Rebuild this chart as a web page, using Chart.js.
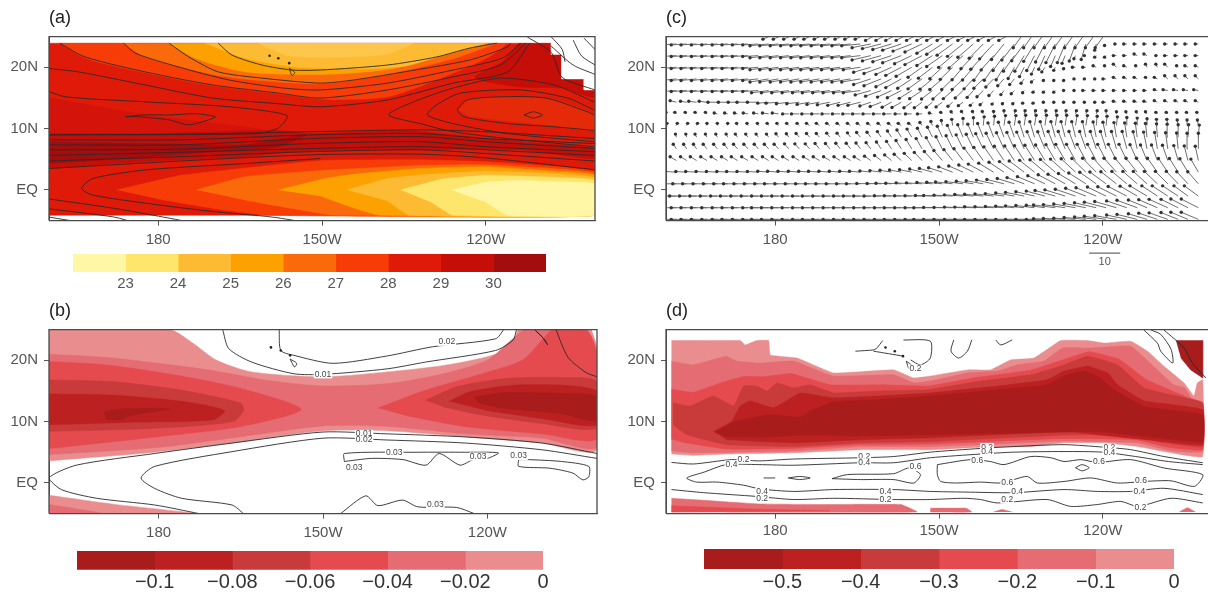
<!DOCTYPE html>
<html><head><meta charset="utf-8">
<script src="https://cdn.jsdelivr.net/npm/chart.js@4"></script>
<style>
html,body{margin:0;padding:0;background:#fff;width:1208px;height:594px;overflow:hidden}
canvas{position:absolute;filter:blur(0.6px)}
</style></head><body>
<canvas id="pa" width="604" height="250" style="left:0;top:0"></canvas>
<canvas id="pc" width="604" height="272" style="left:617px;top:0"></canvas>
<canvas id="pb" width="604" height="250" style="left:0;top:293px"></canvas>
<canvas id="pd" width="604" height="250" style="left:617px;top:293px"></canvas>
<canvas id="ba" width="540" height="50" style="left:40px;top:254px"></canvas>
<canvas id="bb" width="540" height="43" style="left:40px;top:551px"></canvas>
<canvas id="bd" width="540" height="45" style="left:667px;top:549px"></canvas>
<script>
/* ---------- axes ---------- */
const lonTicks=[180,210,240], lonLabels=['180','150W','120W'];
const latTicks=[20,10,0], latLabels=['20N','10N','EQ'];
/* ---------- colour bars ---------- */
const edgesA=[22,23,24,25,26,27,28,29,30,31];
const colorsA=['#FFF6A6','#FEE56B','#FDBB33','#FDA100','#FB6A0A','#F73C08','#DF1A08','#C50E08','#A30D0D'];
const ticksA=[23,24,25,26,27,28,29,30], labelsA=['23','24','25','26','27','28','29','30'];
const edgesB=[-0.12,-0.1,-0.08,-0.06,-0.04,-0.02,0];
const redsB=['#A81C1C','#BC2020','#C93A3A','#E54B4E','#E56C72','#E98D8F'];
const ticksB=[-0.1,-0.08,-0.06,-0.04,-0.02,0], labelsB=['\u22120.1','\u22120.08','\u22120.06','\u22120.04','\u22120.02','0'];
const edgesD=[-0.6,-0.5,-0.4,-0.3,-0.2,-0.1,0];
const ticksD=[-0.5,-0.4,-0.3,-0.2,-0.1,0], labelsD=['\u22120.5','\u22120.4','\u22120.3','\u22120.2','\u22120.1','0'];
const [r5,r4,r3,r2,r1,r0]=redsB;

/* ---------- panel (a) SST shading, [lon,lat] outlines ---------- */
const aBase=[[160,-3.6],[260,-3.6],[260,24],[160,24]];
const aWedge=[[160,15.2],[178,12.5],[198,10.3],[200,9.6],[160,9.6]];
const aItcz=[[160,9.5],[178,9.5],[190,9.8],[202,10],[208,9.5],[225,10],[234,9.3],[246,8.2],[260,7.1],[260,5.5],[246,6.9],[222,6.9],[205,6.6],[196,5.8],[184,5.3],[172,4.7],[160,3.9]];
const aCore=[[160,8.2],[178,7.9],[196,7.7],[207,9.3],[202,7.4],[190,6.6],[178,5.8],[160,4.7]];
const aN27=[[162,24],[167,21.5],[178,19.2],[190,17.2],[202,15.9],[210.6,15],[222,15.4],[234,19.2],[241,22],[244,24]];
const aN26=[[173.7,24],[177.6,21.8],[190,19],[199,18],[210,17.5],[222,19],[234,21.5],[242,24]];
const aN25=[[182,24],[187,21.5],[196,19.4],[210,19],[222,19.8],[232,22],[240.5,24]];
const aN24=[[188.6,24],[196,21.6],[205,20.2],[215,19.9],[225,20.3],[234,22.6],[240,24]];
const aN23=[[198.4,24],[204,22],[215,21.8],[222,22.3],[226.8,24]];
const aNE=[[246,24],[243,21],[238,18.5],[246,17],[254,16.8],[260,15.5],[260,24]];
const aInner=[[235,13.3],[237,15],[243,15.4],[252,15],[260,12.5],[260,10],[252,10.8],[243,11.6],[237,12.2]];
const aT27=[[172.4,0.45],[184,2.8],[196,4],[210,5.2],[228,5.3],[240,5],[252,4.3],[260,3.4],[260,-3.6],[200,-3.6],[190,-2.5],[180,-1]];
const aT26=[[187,0.45],[196,2.6],[210,3.6],[228,4.4],[240,4.5],[252,3.9],[260,3.1],[260,-3.6],[212,-3.6],[205,-2.6],[196,-1.2]];
const aT25=[[202,0.45],[210.6,2.3],[216,3],[228,3.9],[240,4.2],[252,3.5],[260,2.8],[260,-3.6],[220.5,-3.6],[215,-2.2],[210,-0.6]];
const aT24=[[214.6,0.45],[222,2.3],[230,3],[240,3.5],[252,3.1],[260,2.4],[260,-3.6],[226,-3.6],[222,-1.3]];
const aT23=[[224.4,0.45],[232,2.2],[240,2.8],[252,2.5],[260,2],[260,-3.6],[234,-3.6],[230,-1.5]];
const aT22=[[233.6,0.45],[240,1.7],[246,2],[252,1.8],[260,1.4],[260,-3.6],[244,-3.6],[240,-1.5]];
const aLand=[[252,25],[252,22.1],[253.9,22.1],[253.9,18.1],[258,18.1],[258,16.3],[260,16.3],[260,25]];
/* panel (a) contours */
const aLines=[
[[191,24],[193.5,22.1],[199,20.5],[204.5,19.7],[209.7,19.7],[222,20.5],[231,21.8],[237,23.2],[242,24]],
[[182,24],[185.6,21.8],[191,19.4],[199,18.4],[209.7,17.6],[215.8,18.1],[225,19.4],[237,21.3],[244,23.4],[244.5,24]],
[[173.7,24],[175.8,22.4],[183.7,20.2],[193,18.1],[203,16.8],[209.7,16.5],[222,17.6],[234,19.7],[243,21.6],[246.4,24]],
[[162,24],[166.6,21.8],[177.6,19.4],[190,17.3],[202,16],[209.7,15.2],[222,16.5],[234,18.6],[242.7,20.5],[247.3,24]],
[[159.3,20],[165.4,19.4],[177.6,17.3],[190,15.2],[202,14.3],[209.7,13.8],[222,14.9],[234,17.6],[244,19.4],[248,24]],
[[159.3,16.5],[163,15.4],[177.6,14.6],[193,13.8],[203.6,12.4],[202,10.4],[198,9.5],[160,9.3]],
[[174,12.2],[176.4,12.2],[182,11.7],[185.6,10.9],[189.2,11.7],[190.5,12.2],[186.8,12.7],[182.5,12.5],[177.6,12.5],[174,12.2]],
[[259.8,14.6],[252.5,17.3],[242.7,18.4],[234,16.8],[226.8,14.6],[222.2,12.5],[228,11.1],[234,9.8],[244,8.7],[259.8,7.4]],
[[259.8,13.3],[255,15.2],[246.4,16.5],[235.4,16],[231,14.1],[229.3,12.5],[234,11.1],[244,9.5],[259.8,8.2]],
[[259.8,12.5],[258.6,13],[251,15.2],[242.7,15.4],[236.6,14.9],[234.8,13.3],[236,12.2],[244,11.1],[252.5,10.6],[259.8,10]],
[[247,12.5],[248.7,13],[250.4,12.5],[248.7,12],[247,12.5]],
[[209.7,5.5],[196,4.7],[178,3.7],[168,2.3],[166,0.7],[168,-0.35],[178,-1.7],[190,-3],[201,-3.9],[208,-4.9]],
[[159.3,-0.9],[172,-2.5],[181,-3.9],[187,-4.9]],
[[159.3,-2.5],[172,-3.9],[176,-4.9]],
[[160,-3.9],[167,-4.9]],
[[247.6,25],[252,22.5],[254,18.5],[260,16.5]],
[[252,25],[254,23],[254.5,21]],
[[256,24.5],[257.5,22],[260,20.5]],
[[258,24.8],[260,23]],
[[252,23.5],[256,20.5],[260,19]]
];
const aItczLons=[160,184,208,228,240,260];
const aItczLats=[
[9.3,9.4,9.8,10.1,9.8,8.7],[8.5,8.5,9.3,9.5,8.7,7.9],[7.7,7.7,8.7,9,8.2,7.1],[6.9,7,7.9,8.2,7.4,6.6],
[6,6.5,7.1,7.4,6.9,6],[5.1,5.8,6.6,6.9,6.3,5.1],[3.9,5.1,6.1,6.2,5.6,3.7]];
const aIslands=[[200.4,22],[202,21.6],[204,20.8]];
const aBig=[[204,20],[205,19.3],[204.5,18.8],[204,20]];

/* ---------- panel (b) ---------- */
const bR0=[[160,25],[182,25],[186.4,22.7],[190.6,20],[197,18.1],[210,17.3],[221.7,18.1],[232.3,19.2],[241.5,21],[245,23.3],[245.7,25],[259,25],[260,22],[260,5.4],[250,6.5],[236,7.5],[221.7,8.5],[210,8.5],[193.4,6.5],[179.3,5],[160,3.6]];
const bR1=[[160,21],[170,20.5],[180,19.5],[190,18.3],[200,16.7],[210,15.8],[222,16.2],[232,17.8],[240,20],[244,23],[247,25],[256,25],[258,20],[260,16],[260,5.8],[250,7.3],[236,8],[222,9.2],[210,9.3],[193,7.3],[180,5.8],[160,4.6]];
const bR2w=[[160,19.8],[170.8,19.2],[183,17.6],[195,15.4],[206,12],[195,9.2],[179.5,7.5],[160,5.6]];
const bR2e=[[220,12.2],[228.7,15.1],[239.4,17.9],[246.4,20],[250,23.3],[252,25],[258,25],[260,21],[260,7.3],[250,8],[235.8,9.2],[225,11]];
const bR3w=[[160,16.8],[172,16.5],[185,15],[195,13],[195.5,11.8],[193.5,10],[179.3,8.9],[160,8.4]];
const bR3e=[[228.7,13.5],[234.5,15.7],[243,17],[253.5,17.2],[260,16.5],[260,9],[250,9.7],[239.4,11],[232,12.4]];
const bR4w=[[160,14.5],[172,14.3],[185,13.2],[192,11.8],[190,10.3],[175,9.9],[160,9.5]];
const bR4e=[[233,13.3],[237,14.9],[246.4,16],[260,15],[260,9.5],[250,10.5],[239.4,11.9]];
const bR5w=[[170,11.6],[173,12.1],[182,12.1],[175,11],[173,10.3],[170.5,10.3]];
const bR5e=[[237.6,14],[243,14.7],[253.5,14.6],[260,14],[260,10.2],[253.5,11.3],[243,12.2],[238.5,13]];
const bS0=[[160,-2],[172,-3.5],[187,-5],[160,-5]];
const bS1=[[160,-3.5],[170,-5],[160,-5]];
const bLines=[
[[191.7,25],[192.8,21.9],[197,19.7],[204.7,17.8],[210,17.7],[221.7,18.6],[228.7,19.7],[241.5,21.6],[244.7,23.3],[245.3,25]],
[[202,25],[202.3,21.6],[204.7,20.8],[211.8,19.5],[221.7,20.7],[230,22.2],[241.5,23.5],[243,25]],
[[260,4.8],[250,6.5],[236,7.5],[221.7,8],[210,8.3],[193.4,6.5],[179.3,4.8],[165,2.9],[160,0.8],[162.3,-1.1],[168.7,-2.5],[179.3,-3.6],[187.4,-5]],
[[260,4],[250,5.4],[236,6.5],[221.7,7],[210,7.3],[193.4,5.1],[179.3,2.7],[176.8,0.8],[179.3,-0.9],[184.2,-2.5],[193.4,-3.6],[195.5,-5]],
[[213.9,3.5],[213.9,4.8],[227.3,5],[236,5],[242,4.9],[240,4],[237.4,3.8],[235,2.9],[231.2,4.8],[228.8,2.9],[224.6,3.8],[218.9,4],[213.9,3.5]],
[[245.7,3.8],[245.7,2.7],[251.4,2.4],[255.6,1.6],[257.4,0.5],[258.5,1],[258.5,2.7],[253.5,3.5],[247.5,3.8],[245.7,3.8]],
[[213.2,-5],[217.8,-2.1],[220,-3.7],[224.5,-2.8],[227.3,-3.9],[234.4,-4],[237.6,-5]],
[[248.6,25],[250.5,23.3],[251,22.5],[249.8,24],[248.6,25]],
[[252.5,25],[254.7,20.5],[258,18],[260,17.3]],
[[204,20.2],[205.2,19.5],[204.8,18.9],[204,20.2]]
];
const bSpots=[[259,25],[260,25],[260,22.5]];
const bIslands=[[200.5,22.1],[202.3,21.6],[204,20.8]];
const bLabels=[[210,17.7,'0.01'],[232.6,23,'0.02'],[217.5,8,'0.01'],[217.5,7,'0.02'],[223,5,'0.03'],[215.7,2.5,'0.03'],[238.3,4.3,'0.03'],[245.7,4.4,'0.03'],[230.5,-3.6,'0.03']];

/* ---------- panel (d) ---------- */
const dR0=[[161,23.3],[173.6,23.3],[174.5,22.6],[176.6,23.3],[178.8,23.3],[179.1,21],[184,20.5],[190.7,18.1],[201.7,18.6],[205.4,17.3],[208.4,17.6],[215.2,18.6],[219.4,18.6],[223.1,20.2],[227.4,20.5],[232.3,23.3],[237.2,23.3],[240.2,22.9],[245.1,23.2],[248.2,21.6],[251.2,19.2],[254.9,16.5],[256.7,14.4],[257.3,16.5],[258.3,17],[258.3,4.7],[252.5,5.3],[246.4,6.3],[240.2,6.9],[232.9,6.9],[226.8,6.3],[217.6,6.2],[208.4,5.8],[195.6,5.8],[183.4,5.3],[171.1,5.1],[165,4.9],[161,5.1]];
const dR1=[[161,20],[165,19.4],[171,20.8],[173,20],[177.2,19.7],[183.4,20],[190.7,17.6],[201.7,17.8],[205.4,16.5],[208.4,16.8],[215.2,18.1],[220.7,18.4],[224.3,19.4],[229.2,20],[232.6,22.1],[237.8,22.1],[245.1,22.4],[250,18.6],[253,16.2],[255,15.7],[256.2,14.1],[258.3,13.3],[258.3,5.5],[252.5,5.6],[246.4,6.9],[232.9,7.2],[220.7,6.7],[208.4,6.3],[195.6,6.3],[183.4,5.6],[165,5.3],[161,5.6]];
const dR2=[[161,15.5],[165,15],[170,16.5],[174,17.5],[178,17.5],[183,18],[190,16.2],[200,16.2],[208,16],[217,17.4],[227,18.6],[233,20.3],[237.5,21.5],[243,20.3],[248,17],[252,15.5],[256,14],[258.3,13.3],[258.3,5.8],[252,6.2],[246,7.4],[233,7.6],[208,6.7],[195,6.6],[183,6],[171,5.9],[163,7],[161,7.5]];
const dR3=[[161.3,13.3],[164.4,12.8],[168.7,14.4],[172.4,12.8],[174.2,16],[176.6,16],[178.5,15.2],[180.3,16.5],[183.4,15.7],[186.4,16.2],[190.7,14.9],[198.7,15.2],[207.8,15.4],[217.6,16.8],[226.8,17.8],[232.9,19.4],[237.2,20.8],[242.7,19.4],[247.6,15.7],[252.5,14.6],[258.3,13.3],[258.3,6.3],[251.2,6.9],[245.1,8],[234.1,8.2],[208.4,7.1],[195.6,6.9],[183.4,6.3],[171.1,6.6],[163.8,8.2],[161.3,9.8]];
const dR4=[[168.7,8.7],[172,10.3],[173.6,12.8],[175.4,13.6],[179.7,12.5],[184.6,14.9],[190.7,14.1],[198.7,14.4],[208.4,14.9],[220.7,16],[229.8,17],[232.9,18.4],[237.2,19.2],[240.9,18.1],[242.7,16.2],[247.6,13.6],[258.3,12.2],[258.3,6.6],[251.2,7.1],[239,8.2],[234,8.7],[208.4,7.7],[195.6,7.4],[183.4,6.9],[171.1,7.4]];
const dR5=[[169,8.6],[173,10.4],[179,11.4],[184.6,11],[186.4,12],[190.7,13.5],[198.7,13.8],[208.4,14.4],[220.7,15.4],[229.8,16.2],[232.9,17.6],[236.6,18.4],[239.6,17.3],[242,15.4],[247.6,12.7],[258.3,11.4],[258.3,7.1],[248,7.9],[239,8.7],[208.4,8.2],[195.6,8],[185,8.2],[178,7.8],[171,7.9]];
const dCorner=[[253.4,23.3],[258.3,23.3],[258.3,17.3],[256.1,18.6],[254.3,20.5]];
const dS0=[[161,-2],[170,-2.5],[177,-2.9],[190,-3],[203,-3],[206,-4.2],[161,-4.2]];
const dS1=[[161,-3.2],[175,-3.7],[190,-4],[161,-4.2]];
const dS2=[[208.4,-3.6],[215,-3.6],[216,-4.2],[208.4,-4.2]];
const dS3=[[220,-4.2],[221.5,-3.8],[223.4,-4.2]];
const dS4=[[254,-4.2],[255.5,-3.5],[257,-4.2]];
const dLines=[
[[161,3.75],[165,3.5],[172,4.2],[177,4],[183.4,4.3],[195.6,4.5],[201.7,4.7],[208.4,5.4],[217.6,6],[223.7,6.3],[232.9,6.6],[240.2,6.2],[245.1,5.8],[251.2,4.7],[258.3,3.7]],
[[258.3,3.4],[252,3.9],[246,4.7],[240,5.4],[232.9,5.5],[223.7,5.4],[217.6,5.1],[208.4,4.5],[201.7,3.7],[195.6,3.7],[183.4,3.3],[177,3.4],[171,3.4],[167,2.2],[163.8,1.26],[165.6,0.6],[169.3,0.6],[174.2,0.1],[177.2,-0.5],[183.4,-0.9],[190.7,-0.6],[201.7,-0.6],[208.4,-0.9],[214.6,-1],[223.7,-1.1],[232.9,-0.6],[239,-0.9],[245.1,-0.9],[251.2,-0.4],[258.3,-1.4]],
[[161,-0.6],[166.9,-1.1],[176.6,-1.7],[183.4,-2.2],[190.7,-2],[201.7,-2.2],[208.4,-2.2],[214.6,-2],[217.6,-2.2],[220.7,-2.75],[229.8,-2.2],[234.1,-3.3],[239,-3],[243.3,-2.5],[246.4,-3.3],[252.5,-2],[258.3,-2.75]],
[[177.9,1.26],[180,1.26]],
[[182.4,1.26],[184.5,1.5],[186.4,1.26],[184.5,1],[182.4,1.26]],
[[190.4,1.15],[193.2,1.8],[201.7,1.95],[204.5,2.86],[206.6,1.8],[205.4,0.45],[201.7,1],[195.6,1],[190.4,1.15]],
[[209.7,3.4],[215.8,4.2],[219.4,3.9],[221.9,3.4],[226.8,4.7],[230.5,4.5],[232.9,3.9],[236,4.2],[239,3.75],[245.1,4.2],[251.2,2.86],[258.3,1.8],[256.8,-0.08],[252.5,0.8],[247.6,0.7],[242.7,0.45],[237.8,1.26],[232.9,0.7],[228,0.45],[226.2,1.5],[223.7,1],[221.3,0.45],[217.6,0.6],[213.3,0.45],[210.3,0.7],[209.7,1.8],[209.7,3.4]],
[[235,2.9],[236.2,3.4],[237.5,2.9],[236.2,2.4],[235,2.9]],
[[194.7,21.6],[198,21.8],[198.5,22],[199.7,23.3]],
[[198,21.6],[203.5,20.8]],
[[203.5,23.4],[208.4,23.2],[208.4,20.5],[206.6,19.4],[204.8,20.2]],
[[204,20],[205,19.3],[204.5,18.8],[204,20]],
[[212.7,23.4],[212.2,21.6],[213.6,20.5],[215.2,21.6],[216,23.4]],
[[220.4,23.4],[221.3,22.6],[223.4,23.4]],
[[247.5,25],[250,22.9],[250.6,21.6],[252.8,19.7],[252.5,21.9],[250.6,24.3],[248.8,25]],
[[251.2,25],[254.9,22.1],[256.4,19.7],[258.9,17.3]]
];
const dIslands=[[200.2,22.2],[201.9,21.6],[203.4,20.8]];
const dLabels=[[174.2,4.2,'0.2'],[172,3.4,'0.4'],[196.3,4.7,'0.2'],[196.3,3.75,'0.4'],[205.7,3,'0.6'],[177.6,-0.9,'0.4'],[177.6,-2,'0.2'],[200.2,-1,'0.4'],[200.2,-2.2,'0.2'],[218.8,6.2,'0.2'],[218.8,5.4,'0.4'],[217,4.1,'0.6'],[222.5,0.45,'0.6'],[224.3,-1,'0.4'],[222.5,-2.2,'0.2'],[241.2,6.1,'0.2'],[241.2,5.3,'0.4'],[239.3,3.9,'0.6'],[247,0.8,'0.6'],[246.7,-0.9,'0.4'],[246.9,-3.45,'0.2'],[205.7,18.8,'0.2']];

/* ---------- panel (c) wind vectors ---------- */
const vecLons=[160,161.9,163.8,165.6,167.5,169.4,171.3,173.1,175,176.9,178.8,180.6,182.5,184.4,186.3,188.1,190,191.9,193.8,195.6,197.5,199.4,201.3,203.1,205,206.9,208.8,210.6,212.5,214.4,216.3,218.1,220,221.9,223.8,225.6,227.5,229.4,231.3,233.1,235,236.9,238.8,240.6,242.5,244.4,246.3,248.1,250,251.9,253.8,255.6,257.5];
const vecLats=[25.7,23.8,21.9,20,18.1,16.2,14.3,12.4,10.5,8.6,6.7,4.8,2.9,1,-1,-2.9,-4.8];
const u0=[0,0,0,0,0,0,0,0,0,0,0,-5,-5,-5,-5,-5,-5,-5,-5,-5,-5,-5,-5,-5,-5,-5,-5,-5,-5,-5,-5,-5,-5,-5,-5,-3.5,-3.5,-3.5,-3.5,-3.5,-3.5,-3.5,-3.5,-3.5,0,0,0,0,0,0,0,0,0];
const v0=[0,0,0,0,0,0,0,0,0,0,0,-2.2,-2.2,-2.2,-2.2,-2.2,-2.2,-2.2,-2.2,-2.2,-2.2,-2.6,-2.6,-2.6,-2.6,-2.6,-2.6,-2.6,-2.6,-2.6,-2.6,-2.6,-2.6,-2.6,-2.6,-5,-5,-5,-5,-5,-5,-5,-5,-5,0,0,0,0,0,0,0,0,0];
const u1=[-5,-5,-5,-5,-5,-5,-5,-5,-5,-5,-6,-6,-6,-6,-6,-6,-6,-6,-6,-6,-6,-6,-6,-6,-6,-5.5,-5,-5,-5,-5,-5,-4.5,-4.5,-4,-4,-4,-3.5,-3,-3,-2.5,-2,-1.5,-0.5,-0.5,-0.5,-1,-1,-1,-1,-1,-1,-1,-1];
const v1=[-.3,-.3,-.3,-.3,-.3,-.3,-.3,-.3,-.3,-.3,-.6,-.6,-.6,-.6,-.6,-.6,-.6,-.6,-.6,-.6,-1.2,-1.5,-1.8,-2,-2.3,-2.6,-3,-3.3,-3.6,-4,-4.3,-4.6,-4.8,-5,-5.2,-5.4,-5.6,-5.8,-6,-6,-5.5,-5,-2,-.5,0,0,0,0,0,0,0,0,0];
const u2=[-5,-5,-5,-5,-5,-5,-5,-5,-5,-5,-6,-6,-6,-6,-6,-6,-6,-6,-6,-6,-6,-6,-6,-6,-5.5,-5.5,-5,-5,-4.5,-4.5,-4,-4,-4,-3.5,-3.5,-3,-2.5,-2,-1.5,-1,-.5,-.5,-.5,-.5,-1,-1,-1,-1,-.5,-1,-1,-1,-1];
const v2=[-.3,-.3,-.3,-.3,-.3,-.3,-.3,-.3,-.3,-.3,-.7,-.7,-.7,-.7,-.7,-.7,-.7,-.7,-.7,-.7,-1.4,-1.7,-2,-2.3,-2.6,-2.9,-3.2,-3.5,-3.8,-4,-4.2,-4.4,-4.6,-4.8,-5,-5,-4.8,-4.4,-3.5,-2.5,-1,0,-.5,-.5,0,0,.5,.5,0,0,0,0,0];
const u3=[-5,-5,-5,-5,-5,-5,-5,-5,-5,-5,-6,-6,-6,-6,-6,-6,-6,-6,-6,-5.5,-5.5,-5.5,-5,-5,-5,-4.5,-4.5,-4,-4,-3.5,-3.5,-3,-3,-2.5,-2,-1.5,-1,-1,-.5,-.5,-1,-1,-1,-.5,-1,-1,-.5,-.5,-.5,-1,-.5,-1,-1];
const v3=[-.4,-.4,-.4,-.4,-.4,-.4,-.4,-.4,-.4,-.4,-.8,-.8,-.8,-.8,-.8,-.8,-.8,-.8,-.8,-.8,-1.6,-2,-2.3,-2.6,-2.9,-3.2,-3.5,-3.7,-3.9,-4,-4.1,-4.2,-4.2,-4,-3.6,-3,-2.2,-1.5,-1,-.5,0,0,.5,.5,1,.5,.5,1,1,1,.5,.5,.5];
const u4=[-5,-5,-5,-5,-5,-5,-5,-5,-5,-5,-6,-6,-6,-6,-6,-6,-6,-6,-6,-6,-5.5,-5.5,-5,-5,-4.5,-4.5,-4,-4,-3.5,-3.5,-3,-3,-2.5,-2,-1.5,-1,-1,-.5,-.5,-.5,-.5,-.5,-.5,-1,-1,-1,-1,-.5,-1,-1,-1,-1,-1];
const v4=[-.5,-.5,-.5,-.5,-.5,-.5,-.5,-.5,-.5,-.5,-1,-1,-1,-1,-1,-1,-1,-1,-1,-1,-1.8,-2.2,-2.5,-2.8,-3,-3.2,-3.3,-3.4,-3.4,-3.4,-3.2,-3,-2.6,-2.2,-1.8,-1.4,-1,-.5,-.5,-.5,0,0,0,0,.5,.5,.5,.5,.5,1,1,1,1];
const u5=[-5,-5,-5,-5,-5,-5,-5,-5,-5,-5,-5.5,-5.5,-5.5,-5.5,-5.5,-5.5,-5.5,-5.5,-5.5,-5.5,-5,-5,-4.5,-4.5,-4,-4,-3.5,-3,-3,-2.5,-2,-2,-1.5,-1,-1,-.5,-.5,-.5,-.5,-.5,-.5,-1,-1,-1,-1,-1,-1,-1,-1,-1.5,-1.5,-1.5,-1.5];
const v5=[-.3,-.3,-.3,-.3,-.3,-.3,-.3,-.3,-.3,-.3,-.7,-.7,-.7,-.7,-.7,-.7,-.7,-.7,-.7,-.7,-1.4,-1.8,-2.1,-2.3,-2.5,-2.6,-2.7,-2.7,-2.6,-2.4,-2.2,-2,-1.6,-1.3,-1,-.7,-.5,-.5,-.5,0,0,0,0,0,0,0,0,0,.3,.3,.3,.3,.3];
const u6=[-2,-2,-2,-2.5,-2.5,-3,-3,-3,-3.5,-3.5,-3.5,-4,-4,-4,-4,-4,-4,-4,-4,-4,-3.5,-3.5,-3,-3,-2.5,-2.5,-2,-2,-1.5,-1.5,-1,-1,-.5,-.5,-.5,-.5,-.5,-.5,-.5,-.5,-.5,-.5,-.5,-1,-1,-1,-1,-1,-1,-1,-1,-1,-1];
const v6=[.5,.5,.3,.3,.3,0,0,0,0,0,-.3,-.3,-.5,-.5,-.7,-.7,-.8,-1,-1,-1,-1.2,-1.4,-1.6,-1.7,-1.8,-1.8,-1.6,-1.5,-1.3,-1.1,-1,-.8,-.6,-.5,-.5,-.3,-.3,0,0,0,0,0,0,0,.3,.3,.3,.3,.5,.5,.5,.5,.5];
const u7=[0,-.5,-.5,-.5,-.5,-1,-1,-1,-1.5,-1.5,-2,-2,-2,-2.5,-2.5,-2.5,-2.5,-2.5,-2.5,-2.5,-2.5,-2.5,-2.5,-2,-2,-1.5,-1,-.5,-.5,-.5,-.3,-.3,0,0,.3,.3,.3,.3,.3,.3,.3,.3,.3,0,0,-.3,-.3,-.5,-.5,-.5,-.5,-.5,-.5];
const v7=[.5,.5,.5,.5,.5,.3,.3,.3,.3,.3,.3,.3,0,0,0,0,0,0,0,0,0,0,0,0,0,0,.3,.5,.7,.8,.8,.8,.8,1,1,1,1,1,1,1,1,1,1,1,.7,.7,.7,.7,.5,.5,.5,.5,.5];
const u8=[.3,.3,.3,.3,0,0,0,-.3,-.3,-.3,-.5,-.5,-.7,-.7,-1,-1,-1,-1,-1,-1,-1,-1,-1,-1,-1,-.7,-.5,-.3,-.3,0,0,.3,.3,.5,.5,.5,.5,.5,.5,.5,.5,.5,.3,.3,.3,0,0,0,-.3,-.3,-.3,-.3,-.3];
const v8=[.7,.7,.7,.7,.7,.7,.7,.7,.7,.7,.7,.7,.7,.7,.7,.7,.7,.7,.7,.7,.7,.7,.7,.7,.7,1,1.3,1.6,2,2.3,2.5,2.8,3,3.2,3.2,3.3,3.3,3.3,3.3,3.3,3.2,3.2,3,3,2.8,2.6,2.4,2.2,2,2,1.8,1.8,1.8];
const u9=[-.3,-.3,-.3,-.5,-.5,-.5,-.5,-.7,-.7,-.7,-.7,-.8,-.8,-1,-1,-1,-1,-1,-1,-1.2,-1.2,-1.2,-1.3,-1.4,-1.5,-1.5,-1.6,-1.6,-1.7,-1.7,-1.8,-1.8,-1.8,-1.8,-1.7,-1.6,-1.5,-1.5,-1.4,-1.3,-1.2,-1.1,-1,-1,-.8,-.7,-.6,-.5,-.3,-.2,0,.2,.3];
const v9=[1,1,1,1,1,1,1,1,1,1,1,1.1,1.1,1.2,1.2,1.2,1.3,1.3,1.4,1.5,1.6,1.8,2,2.3,2.6,2.9,3.2,3.5,3.8,4,4.2,4.4,4.6,4.8,4.8,4.9,5,5,5,5,5,5,4.9,4.8,4.7,4.6,4.5,4.4,4.3,4.2,4,4,3.9];
const u10=[-1,-1,-1,-1,-1.2,-1.2,-1.2,-1.3,-1.3,-1.3,-1.4,-1.4,-1.4,-1.4,-1.4,-1.4,-1.4,-1.4,-1.4,-1.4,-1.5,-1.5,-1.6,-1.7,-1.8,-1.9,-2,-2,-2.1,-2.2,-2.3,-2.4,-2.4,-2.4,-2.4,-2.4,-2.4,-2.3,-2.3,-2.2,-2.1,-2,-1.9,-1.8,-1.6,-1.5,-1.3,-1.1,-.9,-.7,-.5,-.3,0];
const v10=[1.5,1.5,1.5,1.5,1.5,1.5,1.5,1.5,1.5,1.5,1.5,1.5,1.6,1.6,1.6,1.7,1.7,1.8,1.8,1.9,2,2.2,2.4,2.7,3,3.3,3.6,3.9,4.2,4.5,4.7,4.9,5,5.2,5.3,5.4,5.5,5.5,5.6,5.6,5.6,5.6,5.6,5.6,5.6,5.6,5.5,5.4,5.3,5.2,5.1,5,5];
const u11=[-2,-2,-2,-2,-2,-2,-2,-2,-2,-2,-2,-2,-2,-2,-2,-2,-2,-2,-2,-2,-2,-2.1,-2.2,-2.3,-2.4,-2.5,-2.6,-2.7,-2.8,-2.9,-3,-3,-3.1,-3.1,-3.1,-3.1,-3.1,-3,-3,-3,-2.9,-2.8,-2.8,-2.7,-2.6,-2.5,-2.3,-2.1,-1.9,-1.7,-1.4,-1.2,-1];
const v11=[1.2,1.2,1.2,1.2,1.2,1.2,1.2,1.2,1.2,1.2,1.2,1.2,1.2,1.2,1.2,1.2,1.2,1.2,1.2,1.2,1.4,1.6,1.8,2,2.3,2.6,2.9,3.2,3.5,3.8,4,4.2,4.4,4.6,4.7,4.8,4.9,5,5.1,5.2,5.2,5.2,5.2,5.2,5.2,5.2,5.1,5,5,4.9,4.8,4.7,4.6];
const u12=[-3.5,-3.5,-3.5,-3.5,-3.5,-3.5,-3.5,-3.5,-3.5,-3.5,-3.5,-3.5,-3.5,-3.5,-3.5,-3.5,-3.5,-3.5,-3.5,-3.5,-3.5,-3.6,-3.7,-3.8,-3.9,-4,-4.2,-4.4,-4.5,-4.6,-4.7,-4.8,-4.8,-4.8,-4.8,-4.8,-4.8,-4.8,-4.8,-4.7,-4.6,-4.5,-4.4,-4.2,-4,-3.8,-3.6,-3.4,-3.2,-3,-2.8,-2.6,-2.4];
const v12=[.2,.2,.2,.2,.2,.2,.2,.2,.2,.2,.3,.3,.3,.3,.3,.3,.3,.3,.3,.3,.4,.5,.6,.7,.8,1,1.2,1.4,1.7,2,2.3,2.6,2.9,3.2,3.4,3.6,3.8,4,4.1,4.2,4.3,4.4,4.5,4.5,4.5,4.5,4.5,4.5,4.5,4.4,4.4,4.3,4.2];
const u13=[-4.5,-4.5,-4.5,-4.5,-4.5,-4.5,-4.5,-4.5,-4.5,-4.5,-4.5,-4.5,-4.5,-4.5,-4.5,-4.5,-4.5,-4.5,-4.5,-4.5,-4.5,-4.5,-5,-5,-5,-5,-5,-5,-5.5,-5.5,-5.5,-5.5,-5.5,-5.5,-5.5,-5.5,-5.5,-5.5,-5.5,-5.5,-5.5,-5.5,-5.3,-5.2,-5,-4.8,-4.6,-4.4,-4.2,-4,-3.8,-3.6,-3.4];
const v13=[0,0,0,0,0,0,0,0,0,0,0,0,0,0,0,0,0,0,0,0,.1,.1,.2,.2,.3,.3,.4,.5,.6,.7,.8,1,1.2,1.4,1.7,2,2.3,2.6,2.9,3.1,3.3,3.5,3.7,3.8,3.9,4,4,4,4,4,4,3.9,3.9];
const u14=[-5.5,-5.5,-5.5,-5.5,-5.5,-5.5,-5.5,-5.5,-5.5,-5.5,-5.5,-5.5,-5.5,-5.5,-5.5,-5.5,-5.5,-5.5,-5.5,-5.5,-5.5,-5.5,-5.5,-5.5,-5.5,-5.5,-5.5,-6,-6,-6,-6,-6,-6,-6,-6,-6,-6,-6,-6.5,-6.5,-6.5,-6.5,-6.5,-6,-6,-6,-5.5,-5.5,-5,-5,-5,-4.5,-4.5];
const v14=[0,0,0,0,0,0,0,0,0,0,0,0,0,0,0,0,0,0,0,0,0,0,.1,.1,.1,.1,.2,.2,.3,.4,.5,.6,.7,.8,1,1.2,1.4,1.6,1.8,2,2.2,2.5,2.7,2.9,3,3.1,3.2,3.3,3.3,3.3,3.3,3.3,3.3];
const u15=[-5,-5,-5,-5,-5,-5,-5,-5,-5,-5,-5.5,-5.5,-5.5,-5.5,-5.5,-5.5,-5.5,-5.5,-5.5,-5.5,-5.5,-5.5,-5.5,-5.5,-5.5,-5.5,-6,-6,-6,-6,-6,-6,-6,-6,-6,-6,-6,-6,-7,-7,-7,-7,-7,-7,-7,-6.5,-6.5,-6,-6,-6,-5.5,-5.5,-5.5];
const v15=[0,0,0,0,0,0,0,0,0,0,0,0,0,0,0,0,0,0,0,0,0,0,0,0,0,0,0,.1,.1,.2,.2,.3,.3,.4,.5,.6,.7,.8,.9,1,1.2,1.4,1.6,1.8,2,2.2,2.4,2.5,2.6,2.7,2.7,2.8,2.8];
const u16=[-5,-5,-5,-5,-5,-5,-5,-5,-5,-5,-5.5,-5.5,-5.5,-5.5,-5.5,-5.5,-5.5,-5.5,-5.5,-5.5,-5.5,-5.5,-5.5,-5.5,-5.5,-5.5,-6,-6,-6,-6,-6,-6,-6,-6,-6,-6,-6,-6,-7,-7,-7,-7,-7,-7,-7,-6.5,-6.5,-6,-6,-6,-5.5,-5.5,-5.5];
const v16=[0,0,0,0,0,0,0,0,0,0,0,0,0,0,0,0,0,0,0,0,0,0,0,0,0,0,0,0,0,0,0,0,0,0,0,0,0,0,.2,.3,.4,.6,.8,1,1.2,1.4,1.6,1.8,2,2.1,2.2,2.3,2.3];
const uRows=[u0,u1,u2,u3,u4,u5,u6,u7,u8,u9,u10,u11,u12,u13,u14,u15,u16];
const vRows=[v0,v1,v2,v3,v4,v5,v6,v7,v8,v9,v10,v11,v12,v13,v14,v15,v16];
const keyValue=10, keyLon=237.5, keyLat=-10.3;

/* ---------- helpers ---------- */
const FONT='"Liberation Sans", Arial, sans-serif';
const fix=pts=>pts.map(([x,y])=>({x,y:y*1.0163-0.47}));   /* digitising offset of panels (a),(d) */
const raw=pts=>pts.map(([x,y])=>({x,y}));
const poly=(pts,color,conv=raw,t=.25)=>({data:conv(pts),showLine:true,fill:'shape',backgroundColor:color,borderColor:color,borderWidth:.5,tension:t,pointRadius:0});
const line=(pts,conv=raw,color='#2a2a2a',w=.9,t=.25)=>({data:conv(pts),showLine:true,fill:false,borderColor:color,borderWidth:w,tension:t,pointRadius:0});
const dots=(pts,conv=raw,r=1.3)=>({data:conv(pts),showLine:false,pointRadius:r,pointBackgroundColor:'#222',pointBorderWidth:0});
const frame=()=>({data:raw([[160,-5],[260,-5],[260,25],[160,25],[160,-5]]),showLine:true,fill:false,borderColor:'#4a4a4a',borderWidth:1.3,tension:0,pointRadius:0,clip:false});
const textLabels=(items,conv)=>({id:'contourText',afterDatasetsDraw(c){
  const g=c.ctx;g.save();g.font='8.5px '+FONT;g.textAlign='center';g.textBaseline='middle';
  items.forEach(([x,y,t])=>{const yy=conv?y*1.0163-0.47:y;const px=c.scales.x.getPixelForValue(x),py=c.scales.y.getPixelForValue(yy);
    const w=g.measureText(t).width;g.fillStyle='#fff';g.fillRect(px-w/2-1,py-4,w+2,8);g.fillStyle='#444';g.fillText(t,px,py);});
  g.restore();}});
function panel(id,title,datasets,extraPlugins=[],opt={}){
  datasets.forEach((d,i)=>{d.order=-i;});
  return new Chart(document.getElementById(id),{type:'scatter',data:{datasets},plugins:extraPlugins,options:{
    responsive:false,animation:false,events:[],devicePixelRatio:1,
    layout:{padding:{left:0,right:opt.right??9,top:0,bottom:0}},
    plugins:{legend:{display:false},tooltip:{enabled:false},
      title:{display:true,text:title,align:'start',fullSize:false,color:'#222',font:{family:FONT,size:18,weight:'normal',lineHeight:1.2},padding:{top:7,bottom:8}}},
    scales:{
      x:{type:'linear',min:160,max:260,afterBuildTicks:s=>{s.ticks=lonTicks.map(value=>({value}));},afterFit:s=>{s.height=opt.xh??29.4;},
        grid:{drawOnChartArea:false,drawTicks:true,tickLength:5,color:'#555'},border:{display:true,color:'#4a4a4a'},
        ticks:{autoSkip:false,maxRotation:0,padding:opt.xpad??5,color:'#555',font:{family:FONT,size:15},callback:v=>lonLabels[lonTicks.indexOf(v)]}},
      y:{type:'linear',min:-5,max:25,afterBuildTicks:s=>{s.ticks=latTicks.map(value=>({value}));},afterFit:s=>{s.width=49;},
        grid:{drawOnChartArea:false,drawTicks:true,tickLength:5,color:'#555'},border:{display:true,color:'#4a4a4a'},
        ticks:{autoSkip:false,padding:6,color:'#555',font:{family:FONT,size:15},callback:v=>latLabels[latTicks.indexOf(v)]}}
    }}});
}
function colorBar(id,edges,colors,tv,tl,size,h,pl,pr,pad,color){
  const datasets=colors.map((c,i)=>({data:[[edges[i],edges[i+1]]],backgroundColor:c,borderWidth:0,borderSkipped:false,grouped:false,barPercentage:1,categoryPercentage:1}));
  return new Chart(document.getElementById(id),{type:'bar',data:{labels:[''],datasets},options:{
    indexAxis:'y',responsive:false,animation:false,events:[],devicePixelRatio:1,
    layout:{padding:{left:pl,right:pr,top:0,bottom:0}},
    plugins:{legend:{display:false},tooltip:{enabled:false},title:{display:false}},
    scales:{y:{display:false},
      x:{type:'linear',min:edges[0],max:edges[edges.length-1],afterBuildTicks:s=>{s.ticks=tv.map(value=>({value}));},afterFit:s=>{s.height=h;},
        grid:{display:false,drawTicks:false},border:{display:false},
        ticks:{autoSkip:false,maxRotation:0,padding:pad,color,font:{family:FONT,size},callback:v=>tl[tv.findIndex(t=>Math.abs(t-v)<1e-9)]}}
    }}});
}
/* ---------- panel a ---------- */
const [c22,c23,c24,c25,c26,c27,c28,c29,c30]=colorsA;
const aDS=[poly(aBase,c28,fix,0),poly(aWedge,'#D4140A',fix),poly(aItcz,c29,fix),poly(aCore,c30,fix),
 poly(aN27,c27,fix),poly(aN26,c26,fix),poly(aN25,c25,fix),poly(aN24,c24,fix),poly(aN23,'#FEC64A',fix),
 poly(aNE,c29,fix),poly(aInner,'#E52A09',fix),
 poly(aT27,c27,fix,.1),poly(aT26,c26,fix,.1),poly(aT25,c25,fix,.1),poly(aT24,c24,fix,.1),poly(aT23,c23,fix,.1),poly(aT22,c22,fix,.1),
 poly(aLand,'#ffffff',raw,0),
 ...aLines.map(p=>line(p,fix)),
 ...aItczLats.map(r=>line(r.map((la,i)=>[aItczLons[i],la]),fix)),
 line(aBig,fix),dots(aIslands,fix),frame()];
panel('pa','(a)',aDS);
/* ---------- panel b ---------- */
const bDS=[poly(bR0,r0),poly(bR1,r1),poly(bR2w,r2),poly(bR2e,r2),poly(bR3w,r3),poly(bR3e,r3),poly(bR4w,r4),poly(bR4e,r4),poly(bR5w,r5),poly(bR5e,r5),
 poly(bS0,r0,raw,.1),poly(bS1,r1,raw,.1),poly(bSpots,'#ffffff',raw,0),
 ...bLines.map(p=>line(p)),dots(bIslands),frame()];
panel('pb','(b)',bDS,[textLabels(bLabels,false)],{right:7});
/* ---------- panel d ---------- */
const dDS=[poly(dR0,r0,fix,.1),poly(dR1,r1,fix,.1),poly(dR2,r2,fix,.1),poly(dR3,r3,fix,.1),poly(dR4,r4,fix,.1),poly(dR5,r5,fix,.1),poly(dCorner,r5,fix,0),
 poly(dS0,r1,fix,.1),poly(dS1,r2,fix,.1),poly(dS2,r1,fix,.1),poly(dS3,r1,fix,.1),poly(dS4,r1,fix,.1),
 ...dLines.map(p=>line(p,fix)),dots(dIslands,fix),frame()];
panel('pd','(d)',dDS,[textLabels(dLabels,true)],{xpad:3});
/* ---------- panel c ---------- */
const lonPerUnit=0.569, latPerUnit=0.506;
const arrows=[];
vecLats.forEach((la,r)=>vecLons.forEach((lo,c)=>{
  const u=uRows[r][c],v=vRows[r][c];
  arrows.push({x:lo,y:la},{x:lo+u*lonPerUnit,y:la+v*latPerUnit},{x:NaN,y:NaN});
}));
const cDS=[{data:arrows,showLine:true,fill:false,borderColor:'#666',borderWidth:.95,tension:0,spanGaps:false,
  pointRadius:ctx=>ctx.dataIndex%3===1?1.7:0,pointBackgroundColor:'#333',pointBorderWidth:0},
 {data:[{x:keyLon,y:keyLat},{x:keyLon+keyValue*lonPerUnit,y:keyLat}],showLine:true,fill:false,borderColor:'#444',borderWidth:1,clip:false,
  pointRadius:ctx=>ctx.dataIndex===1?1.3:0,pointBackgroundColor:'#333',pointBorderWidth:0},
 frame()];
const keyLabel={id:'keyLabel',afterDatasetsDraw(c){const g=c.ctx;g.save();g.font='11px '+FONT;g.textAlign='center';g.textBaseline='middle';g.fillStyle='#555';
  g.fillText(String(keyValue),c.scales.x.getPixelForValue(keyLon+keyValue*lonPerUnit/2),c.scales.y.getPixelForValue(keyLat-1.5));g.restore();}};
panel('pc','(c)',cDS,[keyLabel],{xh:51.4});
/* ---------- colour bars ---------- */
colorBar('ba',edgesA,colorsA,ticksA,labelsA,15,32,33,34,3,'#555');
colorBar('bb',edgesB,redsB,ticksB,labelsB,20,24.3,37,37,1,'#333');
colorBar('bd',edgesD,redsB,ticksD,labelsD,20,25,37,33,1,'#333');
</script>
</body></html>
